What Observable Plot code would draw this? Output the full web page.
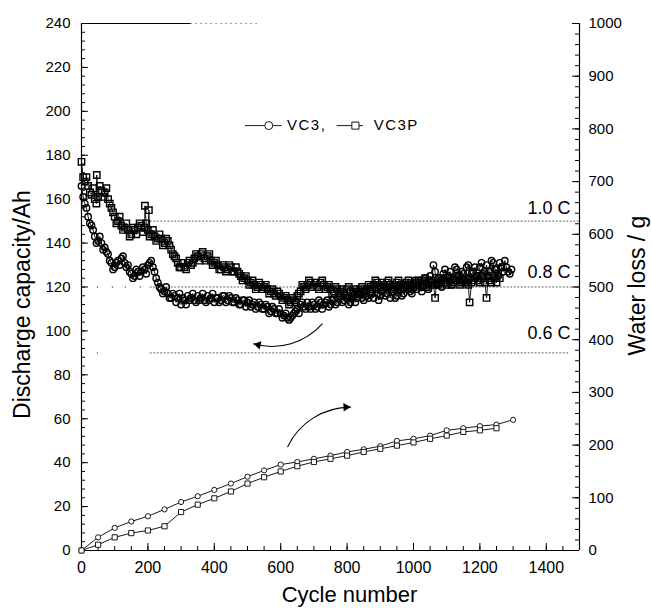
<!DOCTYPE html>
<html><head><meta charset="utf-8">
<script src="https://cdn.jsdelivr.net/npm/d3@7"></script>
<script src="https://cdn.jsdelivr.net/npm/@observablehq/plot@0.6"></script>
<style>body{margin:0;background:#fff} #chart{width:651px;height:608px}</style>
</head><body><div id="chart"></div>
<script>
// ---- data ----
// Discharge capacity (Ah) vs cycle number, [cycle, capacity]; the "B" lists hold the scatter read between them
const vc3Capacity = [[0,166],[10,158],[20,152],[30,148],[40,143],[50,141],[60,140],[70,138],[80,135],[90,131],[100,129],[110,132],[120,133],[130,131],[140,130],[150,126],[160,125],[170,127],[180,127],[190,128],[200,130],[210,132],[220,127],[230,122],[240,119],[250,118],[260,117],[270,115],[280,116],[290,115],[300,112],[310,114],[320,116],[330,115],[340,114],[350,116],[360,115],[370,114],[380,116],[390,115],[400,113],[410,115],[420,114],[430,116],[440,114],[450,115],[460,113],[470,114],[480,112],[490,114],[500,113],[510,111],[520,113],[530,111],[540,112],[550,110],[560,111],[570,109],[580,110],[590,108],[600,108],[610,107],[620,106],[630,106],[640,108],[650,110],[660,112],[670,111],[680,113],[690,110],[700,112],[710,111],[720,113],[730,112],[740,114],[750,112],[760,115],[770,113],[780,116],[790,114],[800,115],[810,113],[820,116],[830,115],[840,117],[850,114],[860,116],[870,118],[880,115],[890,117],[900,116],[910,119],[920,117],[930,115],[940,118],[950,116],[960,119],[970,117],[980,121],[990,118],[1000,122],[1010,119],[1020,123],[1030,120],[1040,122],[1050,125],[1060,130],[1070,121],[1080,124],[1090,126],[1100,122],[1110,127],[1120,124],[1130,128],[1140,123],[1150,126],[1160,129],[1170,124],[1180,127],[1190,125],[1200,129],[1210,126],[1220,130],[1230,127],[1240,131],[1250,128],[1260,131],[1270,127],[1280,129],[1290,126]];
const vc3CapacityB = [[5,161],[15,156],[25,149],[35,146],[45,140],[55,143],[65,137],[75,136],[85,132],[95,128],[105,131],[115,130],[125,134],[135,129],[145,127],[155,124],[165,128],[175,125],[185,129],[195,126],[205,131],[215,129],[225,124],[235,120],[245,117],[255,120],[265,115],[275,117],[285,113],[295,117],[305,115],[315,112],[325,114],[335,117],[345,113],[355,114],[365,117],[375,113],[385,114],[395,117],[405,115],[415,113],[425,116],[435,113],[445,116],[455,113],[465,115],[475,112],[485,114],[495,111],[505,114],[515,112],[525,110],[535,113],[545,110],[555,112],[565,108],[575,111],[585,108],[595,110],[605,106],[615,108],[625,105],[635,107],[645,109],[655,108],[665,113],[675,110],[685,111],[695,113],[705,110],[715,114],[725,110],[735,113],[745,111],[755,114],[765,112],[775,115],[785,113],[795,116],[805,112],[815,115],[825,113],[835,117],[845,115],[855,118],[865,115],[875,117],[885,119],[895,114],[905,118],[915,116],[925,120],[935,118],[945,115],[955,120],[965,116],[975,122],[985,119],[995,117],[1005,123],[1015,121],[1025,118],[1035,124],[1045,119],[1055,122],[1065,127],[1075,124],[1085,120],[1095,128],[1105,125],[1115,121],[1125,129],[1135,125],[1145,127],[1155,122],[1165,130],[1175,126],[1185,129],[1195,123],[1205,131],[1215,127],[1225,125],[1235,132],[1245,128],[1255,125],[1265,129],[1275,132],[1285,127],[1295,128]];
const vc3pCapacity = [[0,177],[5,170],[10,168],[20,166],[30,162],[40,160],[46,171],[50,161],[60,164],[70,163],[80,160],[90,156],[100,152],[110,150],[120,148],[130,147],[140,146],[150,144],[160,146],[170,147],[180,148],[190,147],[191,157],[200,146],[203,155],[210,144],[220,143],[230,142],[240,142],[250,140],[260,141],[270,137],[280,134],[290,131],[300,129],[310,129],[320,131],[330,130],[340,133],[350,134],[360,135],[370,133],[380,134],[390,132],[400,131],[410,130],[420,128],[430,129],[440,128],[450,129],[460,127],[470,127],[480,125],[490,124],[500,123],[510,122],[520,121],[530,120],[540,121],[550,120],[560,119],[570,118],[580,117],[590,118],[600,116],[610,115],[620,114],[630,113],[640,114],[650,116],[660,118],[670,120],[680,121],[690,122],[700,121],[710,120],[720,122],[730,121],[740,120],[750,119],[760,118],[770,119],[780,118],[790,117],[800,119],[810,118],[820,117],[830,118],[840,119],[850,118],[860,119],[870,120],[880,121],[890,122],[900,120],[910,121],[920,122],[930,121],[940,120],[950,122],[960,121],[970,120],[980,122],[990,121],[1000,120],[1010,122],[1020,121],[1030,123],[1040,120],[1050,122],[1060,121],[1065,115],[1070,122],[1080,122],[1090,124],[1100,121],[1110,123],[1120,122],[1130,124],[1140,121],[1150,123],[1160,122],[1169,113],[1180,123],[1190,125],[1200,122],[1210,124],[1220,115],[1230,123],[1240,125],[1250,122],[1260,124]];
const vc3pCapacityB = [[15,170],[25,163],[35,165],[45,158],[55,166],[65,161],[75,165],[85,158],[95,154],[105,149],[115,152],[125,146],[135,149],[145,143],[155,147],[165,144],[175,149],[185,145],[195,149],[205,143],[215,146],[225,141],[235,144],[245,139],[255,142],[265,139],[275,135],[285,133],[295,129],[305,131],[315,128],[325,132],[335,131],[345,135],[355,132],[365,136],[375,132],[385,135],[395,130],[405,132],[415,128],[425,130],[435,127],[445,130],[455,127],[465,129],[475,126],[485,123],[495,125],[505,121],[515,123],[525,119],[535,122],[545,119],[555,121],[565,117],[575,119],[585,116],[595,117],[605,114],[615,116],[625,112],[635,115],[645,113],[655,117],[665,121],[675,119],[685,123],[695,120],[705,122],[715,119],[725,123],[735,119],[745,121],[755,117],[765,120],[775,117],[785,119],[795,116],[805,120],[815,116],[825,119],[835,117],[845,120],[855,117],[865,121],[875,119],[885,123],[895,121],[905,122],[915,120],[925,123],[935,119],[945,121],[955,123],[965,119],[975,121],[985,123],[995,119],[1005,121],[1015,123],[1025,120],[1035,124],[1045,121],[1055,123],[1075,121],[1085,123],[1095,122],[1105,124],[1115,121],[1125,123],[1135,125],[1145,122],[1155,124],[1165,121],[1175,122],[1185,124],[1195,123],[1205,125],[1215,122],[1225,124],[1235,122],[1245,124],[1255,126]];

// Water loss (g) vs cycle number
const waterCycles = [0,50,100,150,200,250,300,350,400,450,500,550,600,650,700,750,800,850,900,950,1000,1050,1100,1150,1200,1250,1300];
const vc3Water  = [0,25,43,55,65,78,92,103,115,127,140,152,163,168,174,180,187,192,198,208,212,218,228,232,236,239,248];
const vc3pWater = [0,11,25,33,38,46,73,87,99,112,127,139,150,160,168,174,180,187,193,199,205,212,218,225,228,232];

// Charge-rate reference levels
const rateLabels = ["1.0 C","0.8 C","0.6 C"];
const rateLevels = [150,120,90];
const rateStart  = [207,207,207];
const rateEnd    = [1500,1500,1470];
const rateSparseDots = [48,93,132,177]; // sparse dots of the 0.8 C level

// Axis ticks
const xTicks = [0,200,400,600,800,1000,1200,1400];
const leftTicks = [0,20,40,60,80,100,120,140,160,180,200,220,240];
const rightTicks = [0,100,200,300,400,500,600,700,800,900,1000];

// Legend
const seriesNames = ["VC3,","VC3P"];
const seriesSymbols = ["circle","square"];

// Annotation arrows [x1,y1,x2,y2] in (cycle, Ah)
const arrowWater = [621,47.3,810,65.3];
const arrowCapacity = [725,103.2,519,94.1];

// ---- helpers ----
const G = 240/1000; // right axis (g) -> left axis (Ah)
const toObj = a => a.map(([c,v]) => ({c,v}));
const byCycle = (a,b) => a.c - b.c;
const vc3 = toObj(vc3Capacity.concat(vc3CapacityB)).sort(byCycle);
const vc3p = toObj(vc3pCapacity.concat(vc3pCapacityB)).sort(byCycle);
const w3 = vc3Water.map((g,i)=>({c: waterCycles[i], v: g*G}));
const w3p = vc3pWater.map((g,i)=>({c: waterCycles[i], v: g*G}));
const rates = rateLabels.map((label,i)=>({label, y: rateLevels[i], x1: rateStart[i], x2: rateEnd[i]}));
const rateLabelY = [155.7,126.6,98.8];
const range = (a,b,s) => { const r=[]; for(let v=a; v<=b+1e-9; v+=s) r.push(+v.toFixed(6)); return r; };
const leftMinor = range(0,240,4), rightMinor = range(0,1000,20).map(g=>g*G), xMinor = range(0,1500,50);
const arrows = [arrowWater, arrowCapacity].map(([x1,y1,x2,y2])=>({x1,y1,x2,y2}));
const legendY = 193.5;
const legend = seriesNames.map((name,i)=>({name, symbol: seriesSymbols[i], x1: [494,770][i], x2: [604,849][i], xm: [564,825][i], xt: [619,880][i]}));

const font = "'Liberation Sans', Arial, Helvetica, sans-serif";

const chart = Plot.plot({
  width: 651, height: 608,
  marginLeft: 81, marginRight: 72, marginTop: 23, marginBottom: 58,
  style: {fontFamily: font, background: "white", color: "black"},
  x: {domain: [0,1500]},
  y: {domain: [0,240]},
  marks: [
    // frame lines
    Plot.ruleX([0,1500], {stroke: "black", strokeWidth: 1.2}),
    Plot.ruleY([0], {stroke: "black", strokeWidth: 1.2}),
    Plot.ruleY([240], {x1: 0, x2: 330, stroke: "black", strokeWidth: 1}),
    Plot.ruleY([240], {x1: 330, x2: 530, stroke: "#444", strokeWidth: 1, strokeDasharray: "1,4"}),
    // inward ticks
    Plot.ruleY(leftTicks, {x1: 0, x2: 21, stroke: "black"}),
    Plot.ruleY(leftMinor, {x1: 0, x2: 12, stroke: "black"}),
    Plot.ruleY(rightTicks, {y: d => d*G, x1: 1479, x2: 1500, stroke: "black"}),
    Plot.ruleY(rightMinor, {x1: 1488, x2: 1500, stroke: "black"}),
    Plot.ruleX(xTicks, {y1: 0, y2: 3.2, stroke: "black"}),
    Plot.ruleX(xMinor, {y1: 0, y2: 1.8, stroke: "black"}),
    // tick labels
    Plot.axisY({ticks: leftTicks, tickSize: 0, tickPadding: 11, fontSize: 15, label: null}),
    Plot.axisY({anchor: "right", ticks: rightTicks.map(g=>g*G), tickFormat: d => String(Math.round(d/G)), tickSize: 0, tickPadding: 9, fontSize: 15, label: null}),
    Plot.axisX({ticks: xTicks, tickFormat: d => String(d), tickSize: 0, tickPadding: 11, fontSize: 16, label: null}),
    // rate reference lines
    Plot.ruleY(rates, {y: "y", x1: "x1", x2: "x2", stroke: "#555", strokeWidth: 0.9, strokeDasharray: "2,1.5"}),
    Plot.dot(rateSparseDots, {x: d => d, y: 120, r: 0.7, fill: "#444"}),
    Plot.dot([48], {x: d => d, y: 90, r: 0.7, fill: "#444"}),
    Plot.text(rates, {x: 1473, y: (d,i) => rateLabelY[i], text: "label", textAnchor: "end", fontSize: 18}),
    // capacity series
    Plot.line(vc3, {x: "c", y: "v", stroke: "black", strokeWidth: 0.9}),
    Plot.line(vc3p, {x: "c", y: "v", stroke: "black", strokeWidth: 0.9}),
    Plot.dot(vc3p, {x: "c", y: "v", symbol: "square", r: 3.6, stroke: "black", strokeWidth: 1.4, fill: "none"}),
    Plot.dot(vc3, {x: "c", y: "v", symbol: "circle", r: 3.2, stroke: "black", strokeWidth: 1.4, fill: "none"}),
    // water loss series
    Plot.line(w3, {x: "c", y: "v", stroke: "black", strokeWidth: 0.9}),
    Plot.line(w3p, {x: "c", y: "v", stroke: "black", strokeWidth: 0.9}),
    Plot.dot(w3, {x: "c", y: "v", symbol: "circle", r: 2.6, stroke: "black", strokeWidth: 0.9, fill: "white"}),
    Plot.dot(w3p, {x: "c", y: "v", symbol: "square", r: 2.9, stroke: "black", strokeWidth: 0.9, fill: "white"}),
    // annotation arrows
    Plot.arrow(arrows, {x1: "x1", y1: "y1", x2: "x2", y2: "y2", bend: 32, headLength: 0, stroke: "black", strokeWidth: 1.1}),
    Plot.dot([arrows[0]], {x: "x2", y: "y2", symbol: "triangle2", r: 4, rotate: 88, fill: "black", dx: -4.5, dy: 0}),
    Plot.dot([arrows[1]], {x: "x2", y: "y2", symbol: "triangle2", r: 4, rotate: 282, fill: "black", dx: 4.4, dy: 1}),
    // legend
    Plot.ruleY(legend, {y: legendY, x1: "x1", x2: "x2", stroke: "black", strokeWidth: 0.9}),
    Plot.dot(legend, {x: "xm", y: legendY, symbol: "symbol", r: 4, stroke: "black", fill: "white", strokeWidth: 0.9}),
    Plot.text(legend, {x: "xt", y: legendY, text: "name", textAnchor: "start", fontSize: 15}),
    // axis titles
    Plot.text(["Discharge capacity/Ah"], {frameAnchor: "left", text: d => d, rotate: -90, dx: -59, dy: 17.5, fontSize: 23, textAnchor: "middle", lineAnchor: "middle"}),
    Plot.text(["Water loss / g"], {frameAnchor: "right", text: d => d, rotate: -90, dx: 58, dy: -1.5, fontSize: 23, textAnchor: "middle", lineAnchor: "middle"}),
    Plot.text(["Cycle number"], {frameAnchor: "bottom", text: d => d, dx: 19, dy: 44, fontSize: 22, textAnchor: "middle", lineAnchor: "middle"})
  ]
});
d3.select(chart).selectAll("text").filter(function(){ return seriesNames.includes(this.textContent); }).attr("letter-spacing", "1.5px");
document.getElementById("chart").appendChild(chart);
</script>
</body></html>
